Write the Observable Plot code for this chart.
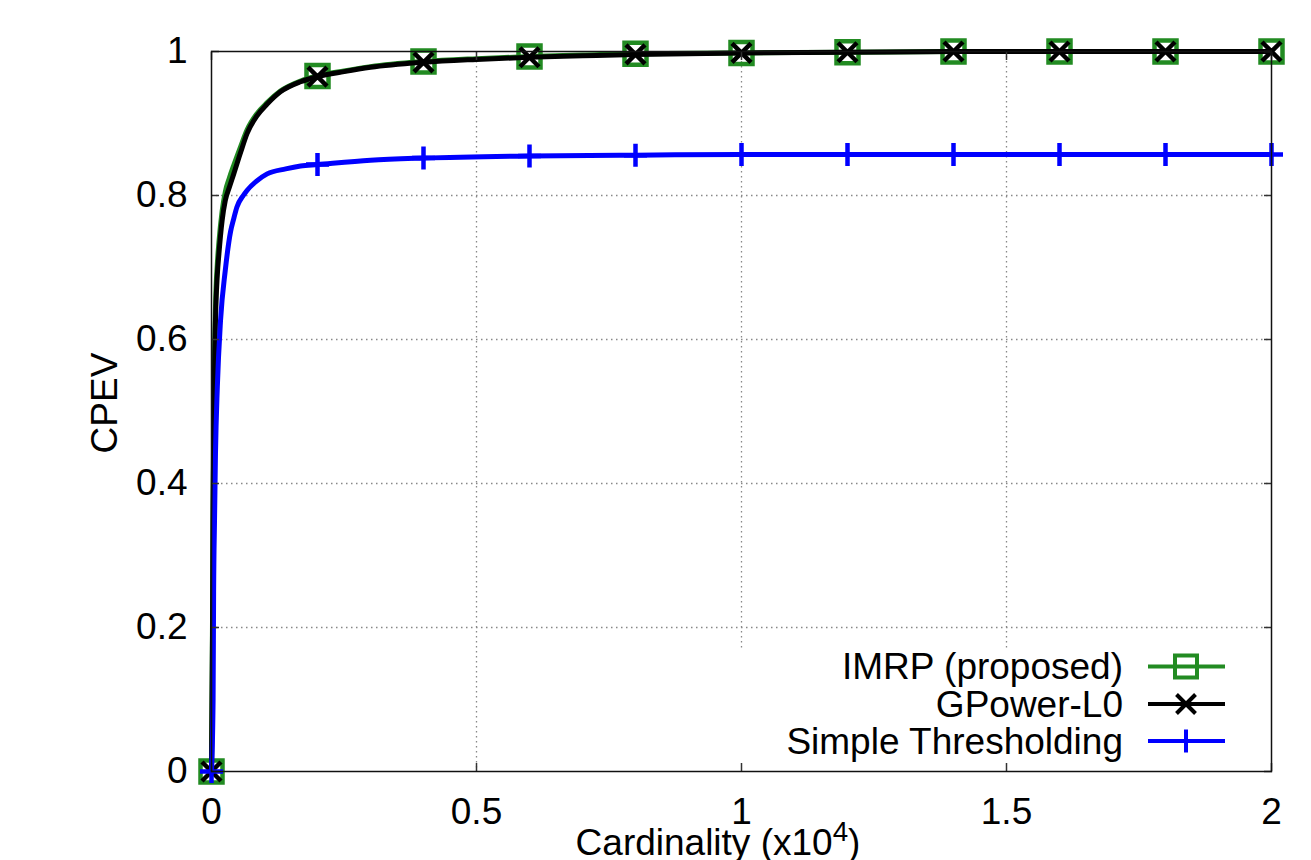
<!DOCTYPE html>
<html><head><meta charset="utf-8">
<script src="https://cdn.jsdelivr.net/npm/d3@7"></script>
<script src="https://cdn.jsdelivr.net/npm/@observablehq/plot@0.6"></script>
<style>body{margin:0;background:#fff}</style>
</head><body><div id="chart"></div>
<script>
const seriesNames = ["IMRP (proposed)", "GPower-L0", "Simple Thresholding"];
const seriesColors = ["#228b22", "#000000", "#0000ff"];

// curve samples (x in units of 10^4)
const gpowerX = [0, 0.002, 0.003, 0.0045, 0.0075, 0.011, 0.014, 0.02, 0.026, 0.034, 0.042, 0.055, 0.067, 0.085, 0.105, 0.13, 0.168, 0.2, 0.25, 0.3, 0.4, 0.5, 0.6, 0.7, 0.8, 1.0, 1.2, 1.4, 1.6, 1.8, 2.0];
const gpowerY = [0, 0.2, 0.35, 0.49, 0.626, 0.69, 0.719, 0.765, 0.793, 0.812, 0.83, 0.86, 0.886, 0.91, 0.927, 0.944, 0.958, 0.965, 0.972, 0.978, 0.985, 0.989, 0.992, 0.994, 0.996, 0.998, 0.999, 1, 1, 1, 1];
const imrpX = gpowerX;
const imrpY = [0, 0.22, 0.37, 0.51, 0.645, 0.705, 0.735, 0.778, 0.805, 0.825, 0.842, 0.868, 0.891, 0.913, 0.929, 0.945, 0.959, 0.966, 0.973, 0.979, 0.986, 0.99, 0.993, 0.995, 0.997, 0.998, 0.999, 1, 1, 1, 1];
const stX = [0, 0.003, 0.004, 0.0057, 0.0075, 0.011, 0.017, 0.026, 0.036, 0.042, 0.048, 0.06, 0.067, 0.085, 0.105, 0.14, 0.168, 0.2, 0.3, 0.4, 0.6, 0.8, 1.0, 1.2, 1.4, 1.6, 1.8, 2.0];
const stY = [0, 0.1, 0.25, 0.349, 0.441, 0.534, 0.626, 0.696, 0.75, 0.768, 0.784, 0.8, 0.807, 0.82, 0.83, 0.837, 0.841, 0.843, 0.849, 0.852, 0.855, 0.856, 0.857, 0.857, 0.857, 0.857, 0.857, 0.857];

// marker points
const markerX = [0, 0.2, 0.4, 0.6, 0.8, 1.0, 1.2, 1.4, 1.6, 1.8, 2.0];
const imrpM = [0, 0.966, 0.986, 0.993, 0.997, 0.998, 0.999, 1, 1, 1, 1];
const gpowerM = [0, 0.965, 0.985, 0.992, 0.996, 0.998, 0.999, 1, 1, 1, 1];
const stM = [0, 0.843, 0.852, 0.855, 0.856, 0.857, 0.857, 0.857, 0.857, 0.857, 0.857];

const xTicks = [0, 0.5, 1, 1.5, 2];
const yTicks = [0, 0.2, 0.4, 0.6, 0.8, 1];
const xTickLabels = ["0", "0.5", "1", "1.5", "2"];
const yTickLabels = ["0", "0.2", "0.4", "0.6", "0.8", "1"];

const zip = (xs, ys) => xs.map((x, i) => ({x, y: ys[i]}));
const imrp = zip(imrpX, imrpY), gpower = zip(gpowerX, gpowerY), st = zip(stX, stY);
const imrpPts = zip(markerX, imrpM), gpowerPts = zip(markerX, gpowerM), stPts = zip(markerX, stM);

const squareSym = {draw(c){const s=11; c.moveTo(-s,-s); c.lineTo(s,-s); c.lineTo(s,s); c.lineTo(-s,s); c.closePath();}};
const timesSym = {draw(c){const r=9.5; c.moveTo(-r,-r); c.lineTo(r,r); c.moveTo(-r,r); c.lineTo(r,-r);}};
const plusSym = {draw(c){const r=11.5; c.moveTo(-r,0); c.lineTo(r,0); c.moveTo(0,-r); c.lineTo(0,r);}};
const syms = [squareSym, timesSym, plusSym];

const font = "'Liberation Sans', Arial, Helvetica, sans-serif";
const fs = 37;
const tickStroke = "#333";
const lw = 5;

const plot = Plot.plot({
  width: 1311, height: 860,
  marginLeft: 211, marginRight: 40, marginTop: 51, marginBottom: 89,
  style: {fontFamily: font, fontSize: fs + "px", background: "#fff", color: "#000"},
  x: {domain: [0, 2]},
  y: {domain: [0, 1]},
  marks: [
    Plot.gridX({ticks: [0.5, 1, 1.5], stroke: "#888", strokeOpacity: 1, strokeWidth: 1.3, strokeDasharray: "1.5,3.5"}),
    Plot.gridY({ticks: [0.2, 0.4, 0.6, 0.8], stroke: "#888", strokeOpacity: 1, strokeWidth: 1.3, strokeDasharray: "1.5,3.5"}),
    Plot.line(imrp, {x: "x", y: "y", stroke: seriesColors[0], strokeWidth: lw, curve: "monotone-x"}),
    Plot.dot(imrpPts, {x: "x", y: "y", r: 5, symbol: squareSym, stroke: seriesColors[0], fill: "none", strokeWidth: 4.5}),
    Plot.line(gpower, {x: "x", y: "y", stroke: seriesColors[1], strokeWidth: lw, curve: "monotone-x"}),
    Plot.dot(gpowerPts, {x: "x", y: "y", r: 5, symbol: timesSym, stroke: seriesColors[1], fill: "none", strokeWidth: 4.5}),
    Plot.line(st, {x: "x", y: "y", stroke: seriesColors[2], strokeWidth: lw, curve: "monotone-x"}),
    Plot.dot(stPts, {x: "x", y: "y", r: 5, symbol: plusSym, stroke: seriesColors[2], fill: "none", strokeWidth: 4.5}),
    Plot.axisX({anchor: "bottom", ticks: xTicks, tickFormat: (d, i) => xTickLabels[i], tickSize: -8, tickPadding: 34, stroke: tickStroke, strokeWidth: 1.5, fontSize: fs, label: null}),
    Plot.axisX({anchor: "top", ticks: xTicks, tickFormat: () => "", tickSize: -8, stroke: tickStroke, strokeWidth: 1.5, label: null}),
    Plot.axisY({anchor: "left", ticks: yTicks, tickFormat: (d, i) => yTickLabels[i], tickSize: -8, tickPadding: 32, stroke: tickStroke, strokeWidth: 1.5, fontSize: fs, label: null}),
    Plot.axisY({anchor: "right", ticks: yTicks, tickFormat: () => "", tickSize: -8, stroke: tickStroke, strokeWidth: 1.5, label: null}),
    Plot.frame({stroke: "#111", strokeWidth: 1.5})
  ]
});

const svg = d3.select(plot);
// legend background inserted after grid
const grids = plot.querySelectorAll('g[aria-label="x-grid"], g[aria-label="y-grid"]');
const lastGrid = grids[grids.length - 1];
const bg = document.createElementNS("http://www.w3.org/2000/svg", "rect");
bg.setAttribute("x", 730); bg.setAttribute("y", 648);
bg.setAttribute("width", 1271 - 730); bg.setAttribute("height", 771 - 648);
bg.setAttribute("fill", "#fff");
if (lastGrid) lastGrid.after(bg);

const leg = svg.append("g").attr("font-family", font).attr("font-size", fs);
const rowsY = [666.5, 704, 741];
seriesNames.forEach((name, i) => {
  const cy = rowsY[i];
  leg.append("text").attr("x", 1123).attr("y", cy).attr("dy", "0.35em").attr("text-anchor", "end").attr("fill", "#000").text(name);
  leg.append("line").attr("x1", 1148).attr("x2", 1225).attr("y1", cy).attr("y2", cy).attr("stroke", seriesColors[i]).attr("stroke-width", 4);
  const p = d3.path(); syms[i].draw(p);
  leg.append("path").attr("d", p.toString()).attr("transform", `translate(1186,${cy})`).attr("fill", "none").attr("stroke", seriesColors[i]).attr("stroke-width", 4);
});

// axis titles
const xt = svg.append("text").attr("x", 718).attr("y", 855).attr("text-anchor", "middle").attr("font-family", font).attr("font-size", fs).attr("fill", "#000");
xt.append("tspan").text("Cardinality (x10");
xt.append("tspan").attr("font-size", fs * 0.75).attr("dy", -14).text("4");
xt.append("tspan").attr("dy", 14).text(")");
svg.append("text").attr("transform", "translate(117,403) rotate(-90)").attr("text-anchor", "middle").attr("font-family", font).attr("font-size", fs).attr("fill", "#000").text("CPEV");

document.getElementById("chart").appendChild(plot);
</script>
</body></html>
